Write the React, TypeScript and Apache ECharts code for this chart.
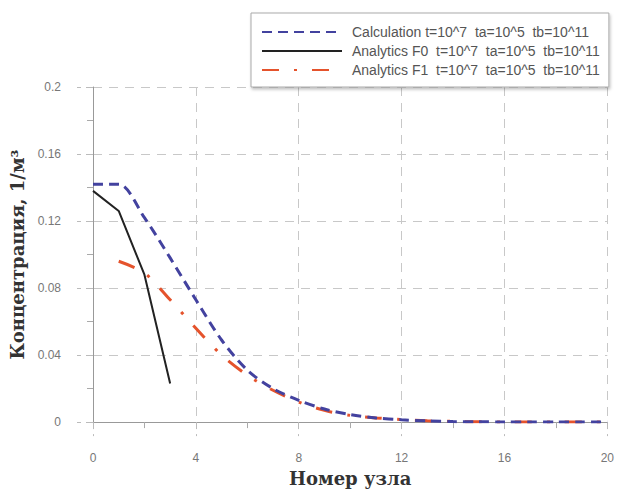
import React, { useEffect, useRef } from "react";
import * as echarts from "echarts";

const nodesCalc = [0, 1, 2, 3, 4, 5, 6, 7, 8, 9, 10, 11, 12, 13, 14, 15, 16, 17, 18, 19, 20];
const calcValues = [0.142, 0.142, 0.122, 0.098, 0.073, 0.049, 0.031, 0.02, 0.013, 0.0078, 0.0045, 0.0025, 0.0014, 0.0007, 0.0003, 0.0002, 0.0001, 0.0001, 0, 0, 0];
const nodesF0 = [0, 1, 2, 3];
const f0Values = [0.138, 0.126, 0.088, 0.023];
const nodesF1 = [1, 2, 3, 4, 5, 6, 7, 8, 9, 10, 11, 12, 13, 14, 15, 16, 17, 18, 19, 20];
const f1Values = [0.096, 0.089, 0.073, 0.056, 0.04, 0.028, 0.019, 0.012, 0.007, 0.004, 0.0025, 0.0015, 0.0008, 0.0004, 0.0002, 0.0001, 0.0001, 0, 0, 0];

const seriesNames = [
  "Calculation t=10^7  ta=10^5  tb=10^11",
  "Analytics F0  t=10^7  ta=10^5  tb=10^11",
  "Analytics F1  t=10^7  ta=10^5  tb=10^11",
];
const xTitle = "Номер узла";
const yTitle = "Концентрация, 1/м³";

const pairs = (xs: number[], ys: number[]) => xs.map((x, i) => [x, ys[i]]);

export default function App() {
  const ref = useRef<HTMLDivElement>(null);
  useEffect(() => {
    document.body.style.margin = "0";
    const chart = echarts.init(ref.current!, null, { renderer: "svg" });
    const labelFont = { fontFamily: "Liberation Sans, Arial, sans-serif", fontSize: 12, color: "#777" };
    const nameFont = { fontFamily: "DejaVu Serif, serif", fontSize: 18, fontWeight: "bold" as const, color: "#333" };
    chart.setOption({
      animation: false,
      backgroundColor: "#fff",
      grid: { left: 93, right: 4, top: 87, bottom: 61, containLabel: false },
      legend: {
        orient: "vertical",
        left: 251,
        top: 13,
        padding: [12, 9, 10, 10],
        itemWidth: 80,
        itemHeight: 14,
        itemGap: 5,
        backgroundColor: "#fff",
        borderColor: "#aaa",
        borderWidth: 1,
        shadowColor: "rgba(0,0,0,0.25)",
        shadowBlur: 3,
        shadowOffsetX: 1,
        shadowOffsetY: 2,
        itemStyle: { opacity: 0 },
        textStyle: { fontFamily: "Liberation Sans, Arial, sans-serif", fontSize: 14, color: "#555", padding: [0, 0, 0, 5] },
        data: seriesNames,
      },
      xAxis: {
        type: "value",
        min: 0,
        max: 20,
        interval: 4,
        name: xTitle,
        nameLocation: "middle",
        nameGap: 43,
        nameTextStyle: nameFont,
        axisLine: { lineStyle: { color: "#999", width: 1 } },
        axisTick: { show: true, length: 14, lineStyle: { color: "#bbb", type: [7, 5] } },
        minorTick: { show: true, splitNumber: 2, length: 6, lineStyle: { color: "#aaa" } },
        axisLabel: { ...labelFont, margin: 30 },
        splitLine: { show: true, lineStyle: { color: "#c8c8c8", type: [9, 7] } },
      },
      yAxis: {
        type: "value",
        min: 0,
        max: 0.2,
        interval: 0.04,
        name: yTitle,
        nameLocation: "middle",
        nameGap: 65,
        nameTextStyle: nameFont,
        axisLine: { show: true, lineStyle: { color: "#999", width: 1 } },
        axisTick: { show: true, length: 16, lineStyle: { color: "#bbb", type: [7, 5] } },
        minorTick: { show: true, splitNumber: 2, length: 6, lineStyle: { color: "#aaa" } },
        axisLabel: { ...labelFont, margin: 32 },
        splitLine: { show: true, lineStyle: { color: "#c8c8c8", type: [9, 7] } },
      },
      series: [
        {
          name: seriesNames[0],
          type: "line",
          data: pairs(nodesCalc, calcValues),
          symbol: "none",
          smooth: 0.3,
          z: 3,
          itemStyle: { color: "#43429f" },
          lineStyle: { color: "#43429f", width: 3, type: [10, 6] },
        },
        {
          name: seriesNames[1],
          type: "line",
          data: pairs(nodesF0, f0Values),
          symbol: "none",
          z: 4,
          itemStyle: { color: "#222" },
          lineStyle: { color: "#222", width: 2 },
        },
        {
          name: seriesNames[2],
          type: "line",
          data: pairs(nodesF1, f1Values),
          symbol: "none",
          smooth: 0.3,
          z: 2,
          itemStyle: { color: "#e5532c" },
          lineStyle: { color: "#e5532c", width: 3, type: [17, 15, 3, 15] },
        },
      ],
    });
    return () => chart.dispose();
  }, []);
  return <div ref={ref} style={{ width: 617, height: 492 }} />;
}
